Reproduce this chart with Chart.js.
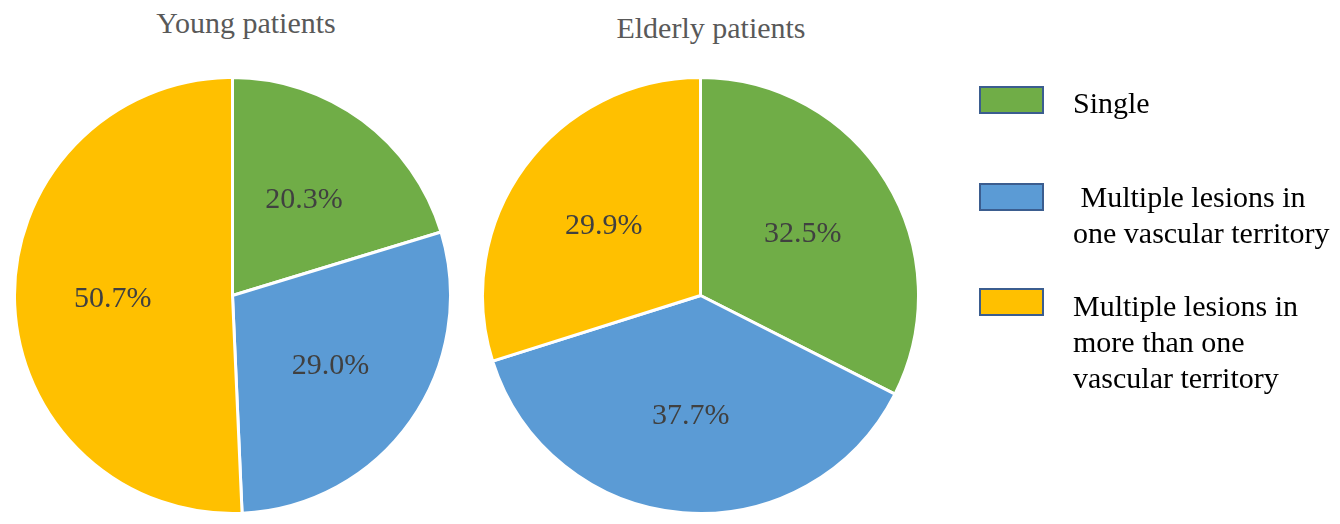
<!DOCTYPE html>
<html>
<head>
<meta charset="utf-8">
<script src="https://cdn.jsdelivr.net/npm/chart.js@4"></script>
<style>
  html, body { margin: 0; padding: 0; background: #fff; }
  body { width: 1340px; height: 524px; position: relative; overflow: hidden; }
  .pie { position: absolute; width: 439px; height: 439px; }
  .title { position: absolute; font-family: "Liberation Serif", serif; font-size: 30px;
           line-height: 30px; color: #595959; white-space: nowrap; transform: translateX(-50%); }
  #legend { position: absolute; left: 960px; top: 60px; }
</style>
</head>
<body>
<div class="title" style="left:246px; top:8px">Young patients</div>
<div class="title" style="left:711px; top:13px">Elderly patients</div>
<div class="pie" style="left:13px; top:76px"><canvas id="young"></canvas></div>
<div class="pie" style="left:481px; top:76px"><canvas id="elderly"></canvas></div>
<canvas id="legend" width="380" height="360"></canvas>
<script>
const categories = ["Single", "Multiple lesions in one vascular territory", "Multiple lesions in more than one vascular territory"];
const legendLines = [
  ["Single"],
  ["\u00a0Multiple lesions in", "one vascular territory"],
  ["Multiple lesions in", "more than one", "vascular territory"],
];
const youngValues = [20.3, 29.0, 50.7];
const elderlyValues = [32.5, 37.7, 29.9];

const colors = ["#70ad47", "#5b9bd5", "#ffc000"];
const FONT = '30px "Liberation Serif", "Times New Roman", serif';

// percent labels inside slices
const sliceLabels = {
  id: "sliceLabels",
  afterDatasetsDraw(chart) {
    const ctx = chart.ctx;
    const ds = chart.data.datasets[0];
    chart.getDatasetMeta(0).data.forEach((arc, i) => {
      const { x, y, startAngle, endAngle, outerRadius } = arc.getProps(["x", "y", "startAngle", "endAngle", "outerRadius"], true);
      const mid = (startAngle + endAngle) / 2;
      const r = outerRadius * 0.55;
      ctx.save();
      ctx.font = FONT;
      ctx.fillStyle = "#404040";
      ctx.textAlign = "center";
      ctx.textBaseline = "middle";
      ctx.fillText(ds.data[i].toFixed(1) + "%", x + Math.cos(mid) * r, y + 1 + Math.sin(mid) * r);
      ctx.restore();
    });
  },
};

function makePie(id, values) {
  return new Chart(document.getElementById(id), {
    type: "pie",
    data: {
      labels: categories,
      datasets: [{
        data: values,
        backgroundColor: colors,
        borderColor: "#ffffff",
        borderWidth: 3,
      }],
    },
    options: {
      responsive: true,
      maintainAspectRatio: false,
      animation: false,
      layout: { padding: 0 },
      plugins: { legend: { display: false }, tooltip: { enabled: false } },
    },
    plugins: [sliceLabels],
  });
}

makePie("young", youngValues);
makePie("elderly", elderlyValues);

// legend on the right (canvas origin is at page 960,60)
const lctx = document.getElementById("legend").getContext("2d");
const swatchTops = [27, 124, 229];
const firstBaselines = [53, 147, 256];
lctx.font = FONT;
lctx.textBaseline = "alphabetic";
legendLines.forEach((lines, i) => {
  lctx.fillStyle = colors[i];
  lctx.fillRect(20, swatchTops[i], 63, 26);
  lctx.strokeStyle = "#3b5d8f";
  lctx.lineWidth = 2;
  lctx.strokeRect(20, swatchTops[i], 63, 26);
  lctx.fillStyle = "#000";
  lines.forEach((ln, j) => lctx.fillText(ln, 113, firstBaselines[i] + j * 36));
});
</script>
</body>
</html>
